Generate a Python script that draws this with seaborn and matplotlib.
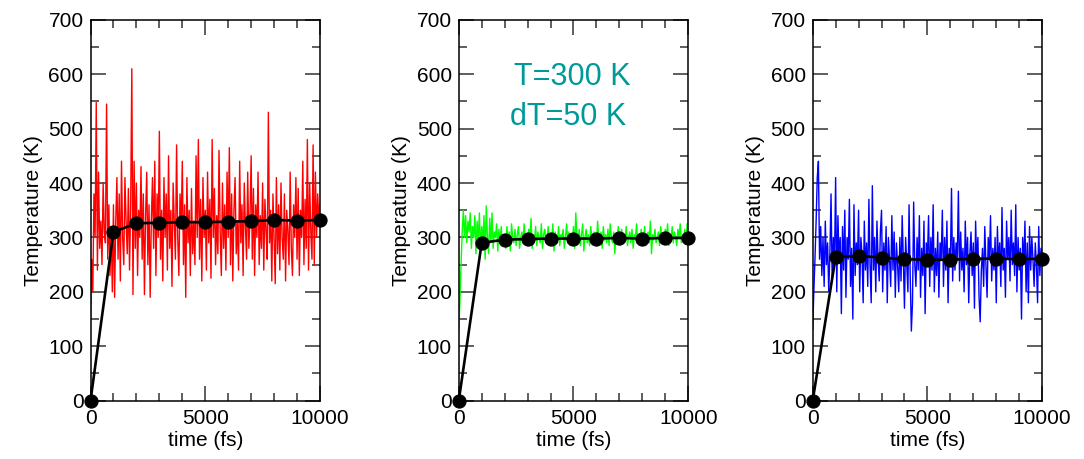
import matplotlib
matplotlib.use("Agg")
import matplotlib.pyplot as plt
import seaborn as sns
import numpy as np
from matplotlib.ticker import MultipleLocator

# Instantaneous temperature traces (one sample per 50 fs)
red_trace = [
    150, 260, 200, 380, 300, 548, 240, 420, 280, 330, 250, 400, 310, 290, 545, 260, 360, 230, 320, 200,
    360, 190, 330, 410, 260, 380, 220, 440, 300, 250, 410, 330, 270, 390, 240, 360, 610, 195, 440, 280,
    400, 230, 350, 300, 430, 260, 380, 195, 340, 420, 250, 360, 190, 330, 410, 280, 440, 230, 380, 300,
    495, 260, 350, 220, 410, 300, 380, 240, 450, 280, 350, 210, 400, 330, 260, 470, 300, 230, 380, 320,
    440, 250, 360, 190, 410, 290, 350, 230, 390, 270, 330, 250, 450, 300, 480, 260, 370, 220, 410, 300,
    350, 240, 420, 290, 370, 225, 480, 300, 390, 250, 340, 270, 460, 310, 230, 400, 280, 360, 240, 420,
    300, 465, 250, 380, 220, 350, 410, 270, 330, 240, 440, 290, 360, 230, 400, 320, 260, 420, 280, 340,
    450, 260, 390, 230, 360, 300, 420, 250, 340, 280, 400, 240, 370, 310, 260, 530, 290, 350, 220, 380,
    300, 215, 410, 270, 360, 240, 400, 300, 260, 380, 220, 350, 310, 250, 420, 280, 230, 360, 300, 410,
    260, 390, 230, 350, 300, 440, 250, 370, 280, 480, 240, 400, 310, 260, 470, 250, 420, 300, 380, 330,
    360]
green_trace = [
    130, 180, 250, 310, 350, 300, 340, 290, 330, 310, 345, 280, 320, 300, 340, 270, 330, 295, 345, 275,
    320, 290, 340, 260, 358, 300, 270, 335, 290, 345, 280, 310, 300, 325, 275, 315, 290, 320, 285, 305,
    300, 280, 320, 295, 310, 275, 325, 300, 290, 315, 285, 305, 320, 280, 300, 310, 290, 325, 295, 305,
    285, 315, 300, 335, 280, 305, 295, 320, 285, 310, 300, 290, 325, 280, 305, 315, 290, 300, 320, 285,
    305, 295, 325, 275, 310, 300, 290, 320, 285, 305, 300, 315, 280, 300, 325, 290, 310, 285, 305, 295,
    320, 280, 345, 300, 290, 315, 285, 305, 325, 275, 300, 315, 290, 305, 285, 320, 300, 290, 310, 295,
    285, 330, 300, 290, 310, 280, 320, 295, 305, 290, 315, 285, 325, 300, 290, 310, 270, 305, 295, 320,
    300, 285, 315, 290, 305, 300, 320, 285, 300, 310, 290, 315, 280, 305, 300, 325, 290, 305, 285, 315,
    300, 290, 320, 285, 305, 310, 290, 330, 270, 305, 295, 315, 290, 300, 310, 285, 320, 295, 305, 290,
    315, 300, 325, 285, 305, 295, 320, 290, 310, 300, 285, 315, 300, 325, 290, 305, 300, 315, 290, 325,
    305]
blue_trace = [
    130, 200, 260, 330, 410, 440, 260, 320, 230, 300, 210, 330, 250, 290, 200, 270, 380, 220, 300, 250,
    410, 200, 340, 260, 300, 160, 320, 240, 350, 190, 300, 260, 370, 210, 280, 150, 360, 230, 290, 250,
    350, 200, 300, 270, 180, 330, 240, 290, 210, 370, 250, 180, 395, 240, 300, 200, 330, 260, 220, 310,
    350, 200, 290, 240, 320, 180, 300, 260, 210, 340, 240, 310, 190, 290, 250, 200, 300, 220, 340, 260,
    170, 300, 250, 200, 360, 230, 128, 180, 365, 250, 210, 300, 240, 340, 190, 280, 230, 330, 160, 290,
    260, 340, 210, 300, 240, 360, 200, 280, 230, 310, 190, 290, 260, 350, 210, 300, 240, 330, 180, 280,
    250, 390, 220, 300, 240, 290, 260, 385, 220, 310, 240, 280, 200, 330, 250, 300, 180, 270, 310, 230,
    290, 170, 330, 250, 300, 190, 145, 240, 280, 210, 320, 250, 190, 300, 260, 340, 220, 280, 240, 300,
    180, 320, 250, 290, 210, 355, 240, 280, 190, 330, 260, 300, 220, 350, 250, 290, 230, 360, 200, 300,
    240, 280, 150, 300, 250, 330, 200, 290, 180, 320, 240, 300, 260, 210, 290, 250, 180, 320, 230, 280,
    260]

# Running averages (black dots)
avg_time = [0, 1000, 2000, 3000, 4000, 5000, 6000, 7000, 8000, 9000, 10000]
red_avg = [0, 310, 326, 327, 328, 328, 329, 330, 332, 331, 332]
green_avg = [0, 290, 296, 297, 298, 298, 298, 299, 298, 299, 299]
blue_avg = [0, 264, 266, 263, 260, 259, 259, 261, 261, 260, 261]

panels = [
    (red_trace, red_avg, "#ff0000", 0.0835),
    (green_trace, green_avg, "#00ff00", 0.4232),
    (blue_trace, blue_avg, "#0000ff", 0.7497),
]

sns.set_style("ticks")
plt.rcParams["font.family"] = ["Liberation Sans", "DejaVu Sans"]
plt.rcParams["text.color"] = "black"
plt.rcParams["axes.labelcolor"] = "black"

fig = plt.figure(figsize=(10.84, 4.59), dpi=100)

for i, (trace, avg, color, left) in enumerate(panels):
    ax = fig.add_axes([left, 0.127, 0.2117, 0.830])
    t = np.linspace(0, 10000, len(trace))
    sns.lineplot(x=t, y=trace, ax=ax, color=color, linewidth=1.0,
                 estimator=None, sort=False)
    sns.lineplot(x=avg_time, y=avg, ax=ax, color="black", linewidth=1.9,
                 marker="o", markersize=9.5, markeredgecolor="black",
                 estimator=None, clip_on=False, zorder=5)

    ax.set_xlim(0, 10000)
    ax.set_ylim(0, 700)
    ax.xaxis.set_major_locator(MultipleLocator(5000))
    ax.xaxis.set_minor_locator(MultipleLocator(1000))
    ax.yaxis.set_major_locator(MultipleLocator(100))
    ax.yaxis.set_minor_locator(MultipleLocator(50))
    ax.tick_params(which="both", direction="in", top=True, right=True,
                   width=1.1, color="#333333", labelcolor="black")
    ax.tick_params(which="major", length=10.5, labelsize=15)
    ax.tick_params(which="minor", length=5.5)
    ax.tick_params(axis="x", pad=6)
    ax.tick_params(axis="y", pad=5)
    for sp in ax.spines.values():
        sp.set_visible(True)
        sp.set_linewidth(1.1)
        sp.set_color("black")
    ax.set_xlabel("time (fs)", fontsize=15, labelpad=2)
    ax.set_ylabel("Temperature (K)", fontsize=15, labelpad=4)

    if i == 1:
        ax.text(4935, 595, "T=300 K", color="#009999", fontsize=22,
                ha="center", va="center")
        ax.text(4760, 522, "dT=50 K", color="#009999", fontsize=22,
                ha="center", va="center")

fig.savefig("out.png", dpi=100)
